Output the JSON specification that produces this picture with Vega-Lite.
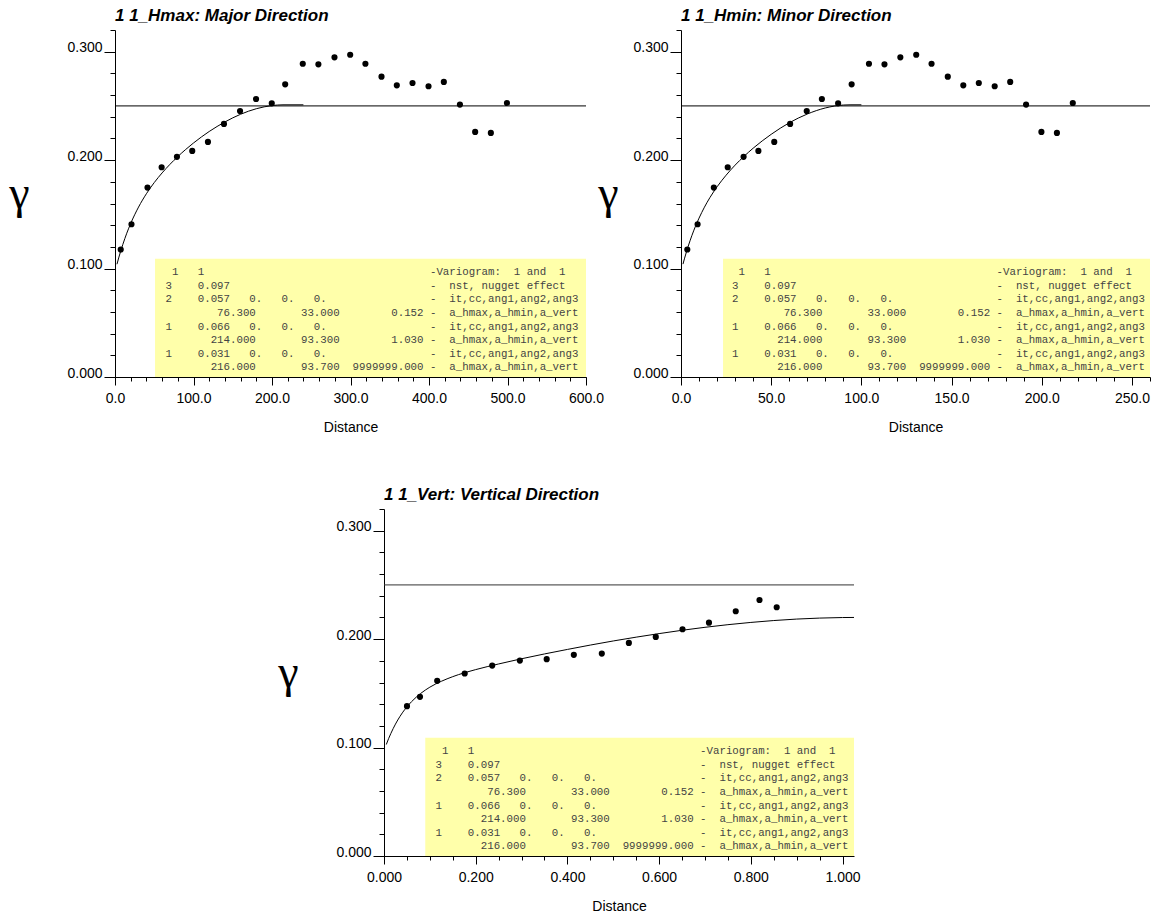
{
  "$schema": "https://vega.github.io/schema/vega-lite/v6.json",
  "autosize": {"type": "pad"},
  "padding": {"left": 8, "top": 6, "right": 0, "bottom": 0},
  "background": "white",
  "config": {
    "view": {"stroke": null},
    "title": {"anchor": "start", "frame": "group", "offset": 5, "baseline": "alphabetic", "font": "Liberation Sans", "fontSize": 17, "fontStyle": "italic", "fontWeight": "bold", "color": "black"},
    "axis": {"grid": false, "domainColor": "black", "domainWidth": 1, "tickColor": "black", "tickWidth": 1, "labelColor": "black", "labelFont": "Liberation Sans", "labelFontSize": 14, "labelFlush": false, "labelOverlap": false, "titleColor": "black", "titleFont": "Liberation Sans", "titleFontSize": 14, "titleFontWeight": "normal"}
  },
  "datasets": {
    "major_pts": [
      {"h": 7.3, "g": 0.1176}, {"h": 21, "g": 0.1409}, {"h": 41.4, "g": 0.1747}, {"h": 59.4, "g": 0.1934}, {"h": 78.9, "g": 0.203}, {"h": 98.4, "g": 0.2085}, {"h": 118.4, "g": 0.2168}, {"h": 138.8, "g": 0.2334}, {"h": 159.3, "g": 0.2453}, {"h": 179.7, "g": 0.2564}, {"h": 199.7, "g": 0.2524}, {"h": 216.8, "g": 0.2699}, {"h": 239.2, "g": 0.2889}, {"h": 259.1, "g": 0.2883}, {"h": 279.6, "g": 0.2948}, {"h": 299.6, "g": 0.2972}, {"h": 319, "g": 0.2889}, {"h": 339.5, "g": 0.277}, {"h": 359, "g": 0.269}, {"h": 379, "g": 0.2711}, {"h": 399.4, "g": 0.2681}, {"h": 418.9, "g": 0.2721}, {"h": 439.4, "g": 0.2512}, {"h": 458.8, "g": 0.226}, {"h": 478.8, "g": 0.2251}, {"h": 499.3, "g": 0.2527}
    ],
    "minor_pts": [
      {"h": 3.5, "g": 0.1176}, {"h": 9.2, "g": 0.1409}, {"h": 18.2, "g": 0.1747}, {"h": 25.9, "g": 0.1934}, {"h": 34.7, "g": 0.203}, {"h": 42.9, "g": 0.2085}, {"h": 51.7, "g": 0.2168}, {"h": 60.5, "g": 0.2334}, {"h": 69.7, "g": 0.2453}, {"h": 78.1, "g": 0.2564}, {"h": 87.1, "g": 0.2524}, {"h": 94.6, "g": 0.2699}, {"h": 104.2, "g": 0.2889}, {"h": 112.8, "g": 0.2883}, {"h": 121.6, "g": 0.2948}, {"h": 130.4, "g": 0.2972}, {"h": 138.9, "g": 0.2889}, {"h": 147.9, "g": 0.277}, {"h": 156.5, "g": 0.269}, {"h": 165.1, "g": 0.2711}, {"h": 173.9, "g": 0.2681}, {"h": 182.5, "g": 0.2721}, {"h": 191.3, "g": 0.2512}, {"h": 199.8, "g": 0.226}, {"h": 208.4, "g": 0.2251}, {"h": 217.2, "g": 0.2527}
    ],
    "vert_pts": [
      {"h": 0.0501, "g": 0.1382}, {"h": 0.0785, "g": 0.1468}, {"h": 0.116, "g": 0.1615}, {"h": 0.176, "g": 0.1683}, {"h": 0.236, "g": 0.1756}, {"h": 0.2963, "g": 0.1802}, {"h": 0.3548, "g": 0.1815}, {"h": 0.414, "g": 0.1855}, {"h": 0.475, "g": 0.1867}, {"h": 0.534, "g": 0.1965}, {"h": 0.5927, "g": 0.202}, {"h": 0.651, "g": 0.2091}, {"h": 0.7087, "g": 0.2152}, {"h": 0.7671, "g": 0.2257}, {"h": 0.8189, "g": 0.2361}, {"h": 0.8564, "g": 0.2294}
    ],
    "major_model": [
      {"h": 2.5, "g": 0.104}, {"h": 5, "g": 0.1106}, {"h": 10, "g": 0.1223}, {"h": 15, "g": 0.1326}, {"h": 20, "g": 0.1416}, {"h": 30, "g": 0.1567}, {"h": 40, "g": 0.169}, {"h": 50, "g": 0.1793}, {"h": 60, "g": 0.1882}, {"h": 70, "g": 0.1961}, {"h": 80, "g": 0.2033}, {"h": 90, "g": 0.2098}, {"h": 100, "g": 0.2158}, {"h": 120, "g": 0.2264}, {"h": 140, "g": 0.2352}, {"h": 160, "g": 0.2423}, {"h": 180, "g": 0.2474}, {"h": 200, "g": 0.2503}, {"h": 214, "g": 0.251}, {"h": 240, "g": 0.251}
    ],
    "minor_model": [
      {"h": 1.1, "g": 0.1041}, {"h": 2, "g": 0.1096}, {"h": 4, "g": 0.1206}, {"h": 6, "g": 0.1303}, {"h": 8, "g": 0.1389}, {"h": 10, "g": 0.1465}, {"h": 13, "g": 0.1566}, {"h": 16, "g": 0.1654}, {"h": 20, "g": 0.1754}, {"h": 25, "g": 0.1861}, {"h": 30, "g": 0.1954}, {"h": 35, "g": 0.2036}, {"h": 40, "g": 0.211}, {"h": 50, "g": 0.2238}, {"h": 60, "g": 0.2344}, {"h": 70, "g": 0.2425}, {"h": 80, "g": 0.2481}, {"h": 90, "g": 0.2508}, {"h": 93.7, "g": 0.251}, {"h": 100, "g": 0.251}
    ],
    "vert_model": [
      {"h": 0.005, "g": 0.1028}, {"h": 0.01, "g": 0.1082}, {"h": 0.02, "g": 0.1175}, {"h": 0.03, "g": 0.1254}, {"h": 0.04, "g": 0.132}, {"h": 0.06, "g": 0.1423}, {"h": 0.08, "g": 0.1499}, {"h": 0.1, "g": 0.1557}, {"h": 0.125, "g": 0.1611}, {"h": 0.15, "g": 0.1654}, {"h": 0.2, "g": 0.1719}, {"h": 0.25, "g": 0.1771}, {"h": 0.3, "g": 0.1819}, {"h": 0.4, "g": 0.1905}, {"h": 0.5, "g": 0.1983}, {"h": 0.6, "g": 0.2051}, {"h": 0.7, "g": 0.2109}, {"h": 0.8, "g": 0.2154}, {"h": 0.9, "g": 0.2185}, {"h": 1.0, "g": 0.2199}, {"h": 1.025, "g": 0.22}
    ]
  },
  "columns": 2,
  "align": "each",
  "bounds": "flush",
  "spacing": {"row": 132, "column": 95},
  "concat": [
    {
      "width": 471, "height": 347,
      "title": {"text": "1 1_Hmax: Major Direction"},
      "resolve": {"axis": {"x": "independent", "y": "independent"}},
      "layer": [
        {
          "data": {"values": [{}]},
          "mark": {"type": "rect", "color": "#FFFFAA"},
          "encoding": {
            "x": {"datum": 51, "type": "quantitative", "scale": {"domain": [0, 600], "nice": false, "zero": false},
              "axis": {"orient": "bottom", "values": [0,100,200,300,400,500,600], "format": ".1f", "tickSize": 8, "labelPadding": 6, "labelOverlap": false, "labelFlush": false,
                "title": "Distance", "titleY": 54, "titleBaseline": "alphabetic"}},
            "x2": {"datum": 600},
            "y": {"datum": 0, "type": "quantitative", "scale": {"domain": [0, 0.32], "nice": false, "zero": false},
              "axis": {"orient": "left", "values": [0,0.1,0.2,0.3], "format": ".3f", "tickSize": 11, "labelBaseline": "alphabetic", "labelPadding": 2, "labelOverlap": false, "labelFlush": false,
                "title": "γ", "titleAngle": 0, "titleX": -96, "titleY": 177, "titleAlign": "center", "titleBaseline": "alphabetic", "titleFont": "Liberation Serif", "titleFontSize": 46}},
            "y2": {"datum": 0.109}
          }
        },
        {
          "data": {"values": [{}]},
          "mark": {"type": "text", "align": "left", "baseline": "alphabetic", "font": "Liberation Mono", "fontSize": 10.75, "lineHeight": 13.6, "color": "#444444",
            "text": [
              "\u200b\u00a01\u00a0\u00a0\u00a01\u00a0\u00a0\u00a0\u00a0\u00a0\u00a0\u00a0\u00a0\u00a0\u00a0\u00a0\u00a0\u00a0\u00a0\u00a0\u00a0\u00a0\u00a0\u00a0\u00a0\u00a0\u00a0\u00a0\u00a0\u00a0\u00a0\u00a0\u00a0\u00a0\u00a0\u00a0\u00a0\u00a0\u00a0\u00a0-Variogram:\u00a0\u00a01\u00a0and\u00a0\u00a01",
              "3\u00a0\u00a0\u00a0\u00a00.097\u00a0\u00a0\u00a0\u00a0\u00a0\u00a0\u00a0\u00a0\u00a0\u00a0\u00a0\u00a0\u00a0\u00a0\u00a0\u00a0\u00a0\u00a0\u00a0\u00a0\u00a0\u00a0\u00a0\u00a0\u00a0\u00a0\u00a0\u00a0\u00a0\u00a0\u00a0-\u00a0\u00a0nst,\u00a0nugget\u00a0effect",
              "2\u00a0\u00a0\u00a0\u00a00.057\u00a0\u00a0\u00a00.\u00a0\u00a0\u00a00.\u00a0\u00a0\u00a00.\u00a0\u00a0\u00a0\u00a0\u00a0\u00a0\u00a0\u00a0\u00a0\u00a0\u00a0\u00a0\u00a0\u00a0\u00a0\u00a0-\u00a0\u00a0it,cc,ang1,ang2,ang3",
              "\u200b\u00a0\u00a0\u00a0\u00a0\u00a0\u00a0\u00a0\u00a076.300\u00a0\u00a0\u00a0\u00a0\u00a0\u00a0\u00a033.000\u00a0\u00a0\u00a0\u00a0\u00a0\u00a0\u00a0\u00a00.152\u00a0-\u00a0\u00a0a_hmax,a_hmin,a_vert",
              "1\u00a0\u00a0\u00a0\u00a00.066\u00a0\u00a0\u00a00.\u00a0\u00a0\u00a00.\u00a0\u00a0\u00a00.\u00a0\u00a0\u00a0\u00a0\u00a0\u00a0\u00a0\u00a0\u00a0\u00a0\u00a0\u00a0\u00a0\u00a0\u00a0\u00a0-\u00a0\u00a0it,cc,ang1,ang2,ang3",
              "\u200b\u00a0\u00a0\u00a0\u00a0\u00a0\u00a0\u00a0214.000\u00a0\u00a0\u00a0\u00a0\u00a0\u00a0\u00a093.300\u00a0\u00a0\u00a0\u00a0\u00a0\u00a0\u00a0\u00a01.030\u00a0-\u00a0\u00a0a_hmax,a_hmin,a_vert",
              "1\u00a0\u00a0\u00a0\u00a00.031\u00a0\u00a0\u00a00.\u00a0\u00a0\u00a00.\u00a0\u00a0\u00a00.\u00a0\u00a0\u00a0\u00a0\u00a0\u00a0\u00a0\u00a0\u00a0\u00a0\u00a0\u00a0\u00a0\u00a0\u00a0\u00a0-\u00a0\u00a0it,cc,ang1,ang2,ang3",
              "\u200b\u00a0\u00a0\u00a0\u00a0\u00a0\u00a0\u00a0216.000\u00a0\u00a0\u00a0\u00a0\u00a0\u00a0\u00a093.700\u00a0\u00a09999999.000\u00a0-\u00a0\u00a0a_hmax,a_hmin,a_vert"
            ]},
          "encoding": {
            "x": {"datum": 64.3, "type": "quantitative", "axis": {"orient": "bottom", "values": [0,20,40,60,80,100,120,140,160,180,200,220,240,260,280,300,320,340,360,380,400,420,440,460,480,500,520,540,560,580,600], "tickSize": 4, "labels": false, "domain": false, "title": null}},
            "y": {"datum": 0.0939, "type": "quantitative", "axis": {"orient": "left", "values": [0,0.02,0.04,0.06,0.08,0.1,0.12,0.14,0.16,0.18,0.2,0.22,0.24,0.26,0.28,0.3,0.32], "tickSize": 5, "labels": false, "domain": false, "title": null}}
          }
        },
        {
          "data": {"values": [{}]},
          "mark": {"type": "rule", "color": "black", "strokeWidth": 1},
          "encoding": {"x": {"datum": 0, "type": "quantitative", "axis": null}, "x2": {"datum": 600}, "y": {"datum": 0.25, "type": "quantitative", "axis": null}}
        },
        {
          "data": {"name": "major_model"},
          "mark": {"type": "line", "color": "black", "strokeWidth": 1, "interpolate": "monotone"},
          "encoding": {"x": {"field": "h", "type": "quantitative", "axis": null}, "y": {"field": "g", "type": "quantitative", "axis": null}}
        },
        {
          "data": {"name": "major_pts"},
          "mark": {"type": "circle", "color": "black", "size": 38, "opacity": 1},
          "encoding": {"x": {"field": "h", "type": "quantitative", "axis": null}, "y": {"field": "g", "type": "quantitative", "axis": null}}
        }
      ]
    },
    {
      "width": 469, "height": 347,
      "title": {"text": "1 1_Hmin: Minor Direction"},
      "resolve": {"axis": {"x": "independent", "y": "independent"}},
      "layer": [
        {
          "data": {"values": [{}]},
          "mark": {"type": "rect", "color": "#FFFFAA"},
          "encoding": {
            "x": {"datum": 23.3, "type": "quantitative", "scale": {"domain": [0, 260], "nice": false, "zero": false},
              "axis": {"orient": "bottom", "values": [0,50,100,150,200,250], "format": ".1f", "tickSize": 8, "labelPadding": 6, "labelOverlap": false, "labelFlush": false,
                "title": "Distance", "titleY": 54, "titleBaseline": "alphabetic"}},
            "x2": {"datum": 260},
            "y": {"datum": 0, "type": "quantitative", "scale": {"domain": [0, 0.32], "nice": false, "zero": false},
              "axis": {"orient": "left", "values": [0,0.1,0.2,0.3], "format": ".3f", "tickSize": 11, "labelBaseline": "alphabetic", "labelPadding": 2, "labelOverlap": false, "labelFlush": false,
                "title": "γ", "titleAngle": 0, "titleX": -73, "titleY": 177, "titleAlign": "center", "titleBaseline": "alphabetic", "titleFont": "Liberation Serif", "titleFontSize": 46}},
            "y2": {"datum": 0.109}
          }
        },
        {
          "data": {"values": [{}]},
          "mark": {"type": "text", "align": "left", "baseline": "alphabetic", "font": "Liberation Mono", "fontSize": 10.75, "lineHeight": 13.6, "color": "#444444",
            "text": [
              "\u200b\u00a01\u00a0\u00a0\u00a01\u00a0\u00a0\u00a0\u00a0\u00a0\u00a0\u00a0\u00a0\u00a0\u00a0\u00a0\u00a0\u00a0\u00a0\u00a0\u00a0\u00a0\u00a0\u00a0\u00a0\u00a0\u00a0\u00a0\u00a0\u00a0\u00a0\u00a0\u00a0\u00a0\u00a0\u00a0\u00a0\u00a0\u00a0\u00a0-Variogram:\u00a0\u00a01\u00a0and\u00a0\u00a01",
              "3\u00a0\u00a0\u00a0\u00a00.097\u00a0\u00a0\u00a0\u00a0\u00a0\u00a0\u00a0\u00a0\u00a0\u00a0\u00a0\u00a0\u00a0\u00a0\u00a0\u00a0\u00a0\u00a0\u00a0\u00a0\u00a0\u00a0\u00a0\u00a0\u00a0\u00a0\u00a0\u00a0\u00a0\u00a0\u00a0-\u00a0\u00a0nst,\u00a0nugget\u00a0effect",
              "2\u00a0\u00a0\u00a0\u00a00.057\u00a0\u00a0\u00a00.\u00a0\u00a0\u00a00.\u00a0\u00a0\u00a00.\u00a0\u00a0\u00a0\u00a0\u00a0\u00a0\u00a0\u00a0\u00a0\u00a0\u00a0\u00a0\u00a0\u00a0\u00a0\u00a0-\u00a0\u00a0it,cc,ang1,ang2,ang3",
              "\u200b\u00a0\u00a0\u00a0\u00a0\u00a0\u00a0\u00a0\u00a076.300\u00a0\u00a0\u00a0\u00a0\u00a0\u00a0\u00a033.000\u00a0\u00a0\u00a0\u00a0\u00a0\u00a0\u00a0\u00a00.152\u00a0-\u00a0\u00a0a_hmax,a_hmin,a_vert",
              "1\u00a0\u00a0\u00a0\u00a00.066\u00a0\u00a0\u00a00.\u00a0\u00a0\u00a00.\u00a0\u00a0\u00a00.\u00a0\u00a0\u00a0\u00a0\u00a0\u00a0\u00a0\u00a0\u00a0\u00a0\u00a0\u00a0\u00a0\u00a0\u00a0\u00a0-\u00a0\u00a0it,cc,ang1,ang2,ang3",
              "\u200b\u00a0\u00a0\u00a0\u00a0\u00a0\u00a0\u00a0214.000\u00a0\u00a0\u00a0\u00a0\u00a0\u00a0\u00a093.300\u00a0\u00a0\u00a0\u00a0\u00a0\u00a0\u00a0\u00a01.030\u00a0-\u00a0\u00a0a_hmax,a_hmin,a_vert",
              "1\u00a0\u00a0\u00a0\u00a00.031\u00a0\u00a0\u00a00.\u00a0\u00a0\u00a00.\u00a0\u00a0\u00a00.\u00a0\u00a0\u00a0\u00a0\u00a0\u00a0\u00a0\u00a0\u00a0\u00a0\u00a0\u00a0\u00a0\u00a0\u00a0\u00a0-\u00a0\u00a0it,cc,ang1,ang2,ang3",
              "\u200b\u00a0\u00a0\u00a0\u00a0\u00a0\u00a0\u00a0216.000\u00a0\u00a0\u00a0\u00a0\u00a0\u00a0\u00a093.700\u00a0\u00a09999999.000\u00a0-\u00a0\u00a0a_hmax,a_hmin,a_vert"
            ]},
          "encoding": {
            "x": {"datum": 28.3, "type": "quantitative", "axis": {"orient": "bottom", "values": [0,10,20,30,40,50,60,70,80,90,100,110,120,130,140,150,160,170,180,190,200,210,220,230,240,250,260], "tickSize": 4, "labels": false, "domain": false, "title": null}},
            "y": {"datum": 0.0939, "type": "quantitative", "axis": {"orient": "left", "values": [0,0.02,0.04,0.06,0.08,0.1,0.12,0.14,0.16,0.18,0.2,0.22,0.24,0.26,0.28,0.3,0.32], "tickSize": 5, "labels": false, "domain": false, "title": null}}
          }
        },
        {
          "data": {"values": [{}]},
          "mark": {"type": "rule", "color": "black", "strokeWidth": 1},
          "encoding": {"x": {"datum": 0, "type": "quantitative", "axis": null}, "x2": {"datum": 260}, "y": {"datum": 0.25, "type": "quantitative", "axis": null}}
        },
        {
          "data": {"name": "minor_model"},
          "mark": {"type": "line", "color": "black", "strokeWidth": 1, "interpolate": "monotone"},
          "encoding": {"x": {"field": "h", "type": "quantitative", "axis": null}, "y": {"field": "g", "type": "quantitative", "axis": null}}
        },
        {
          "data": {"name": "minor_pts"},
          "mark": {"type": "circle", "color": "black", "size": 38, "opacity": 1},
          "encoding": {"x": {"field": "h", "type": "quantitative", "axis": null}, "y": {"field": "g", "type": "quantitative", "axis": null}}
        }
      ]
    },
    {
      "width": 471, "height": 347,
      "title": {"text": "1 1_Vert: Vertical Direction", "dx": 269},
      "resolve": {"axis": {"x": "independent", "y": "independent"}},
      "layer": [
        {
          "data": {"values": [{}]},
          "mark": {"type": "rect", "color": "#FFFFAA"},
          "encoding": {
            "x": {"datum": 0.09, "type": "quantitative", "scale": {"domain": [0, 1.025], "range": [269, 739], "nice": false, "zero": false},
              "axis": {"orient": "bottom", "values": [0,0.2,0.4,0.6,0.8,1.0], "format": ".3f", "tickSize": 8, "labelPadding": 6, "labelOverlap": false, "labelFlush": false,
                "title": "Distance", "titleY": 54, "titleBaseline": "alphabetic"}},
            "x2": {"datum": 1.025},
            "y": {"datum": 0, "type": "quantitative", "scale": {"domain": [0, 0.32], "nice": false, "zero": false},
              "axis": {"orient": "left", "offset": -269, "values": [0,0.1,0.2,0.3], "format": ".3f", "tickSize": 11, "labelBaseline": "alphabetic", "labelPadding": 2, "labelOverlap": false, "labelFlush": false,
                "title": "γ", "titleAngle": 0, "titleX": -96, "titleY": 177, "titleAlign": "center", "titleBaseline": "alphabetic", "titleFont": "Liberation Serif", "titleFontSize": 46}},
            "y2": {"datum": 0.109}
          }
        },
        {
          "data": {"values": [{}]},
          "mark": {"type": "text", "align": "left", "baseline": "alphabetic", "font": "Liberation Mono", "fontSize": 10.75, "lineHeight": 13.6, "color": "#444444",
            "text": [
              "\u200b\u00a01\u00a0\u00a0\u00a01\u00a0\u00a0\u00a0\u00a0\u00a0\u00a0\u00a0\u00a0\u00a0\u00a0\u00a0\u00a0\u00a0\u00a0\u00a0\u00a0\u00a0\u00a0\u00a0\u00a0\u00a0\u00a0\u00a0\u00a0\u00a0\u00a0\u00a0\u00a0\u00a0\u00a0\u00a0\u00a0\u00a0\u00a0\u00a0-Variogram:\u00a0\u00a01\u00a0and\u00a0\u00a01",
              "3\u00a0\u00a0\u00a0\u00a00.097\u00a0\u00a0\u00a0\u00a0\u00a0\u00a0\u00a0\u00a0\u00a0\u00a0\u00a0\u00a0\u00a0\u00a0\u00a0\u00a0\u00a0\u00a0\u00a0\u00a0\u00a0\u00a0\u00a0\u00a0\u00a0\u00a0\u00a0\u00a0\u00a0\u00a0\u00a0-\u00a0\u00a0nst,\u00a0nugget\u00a0effect",
              "2\u00a0\u00a0\u00a0\u00a00.057\u00a0\u00a0\u00a00.\u00a0\u00a0\u00a00.\u00a0\u00a0\u00a00.\u00a0\u00a0\u00a0\u00a0\u00a0\u00a0\u00a0\u00a0\u00a0\u00a0\u00a0\u00a0\u00a0\u00a0\u00a0\u00a0-\u00a0\u00a0it,cc,ang1,ang2,ang3",
              "\u200b\u00a0\u00a0\u00a0\u00a0\u00a0\u00a0\u00a0\u00a076.300\u00a0\u00a0\u00a0\u00a0\u00a0\u00a0\u00a033.000\u00a0\u00a0\u00a0\u00a0\u00a0\u00a0\u00a0\u00a00.152\u00a0-\u00a0\u00a0a_hmax,a_hmin,a_vert",
              "1\u00a0\u00a0\u00a0\u00a00.066\u00a0\u00a0\u00a00.\u00a0\u00a0\u00a00.\u00a0\u00a0\u00a00.\u00a0\u00a0\u00a0\u00a0\u00a0\u00a0\u00a0\u00a0\u00a0\u00a0\u00a0\u00a0\u00a0\u00a0\u00a0\u00a0-\u00a0\u00a0it,cc,ang1,ang2,ang3",
              "\u200b\u00a0\u00a0\u00a0\u00a0\u00a0\u00a0\u00a0214.000\u00a0\u00a0\u00a0\u00a0\u00a0\u00a0\u00a093.300\u00a0\u00a0\u00a0\u00a0\u00a0\u00a0\u00a0\u00a01.030\u00a0-\u00a0\u00a0a_hmax,a_hmin,a_vert",
              "1\u00a0\u00a0\u00a0\u00a00.031\u00a0\u00a0\u00a00.\u00a0\u00a0\u00a00.\u00a0\u00a0\u00a00.\u00a0\u00a0\u00a0\u00a0\u00a0\u00a0\u00a0\u00a0\u00a0\u00a0\u00a0\u00a0\u00a0\u00a0\u00a0\u00a0-\u00a0\u00a0it,cc,ang1,ang2,ang3",
              "\u200b\u00a0\u00a0\u00a0\u00a0\u00a0\u00a0\u00a0216.000\u00a0\u00a0\u00a0\u00a0\u00a0\u00a0\u00a093.700\u00a0\u00a09999999.000\u00a0-\u00a0\u00a0a_hmax,a_hmin,a_vert"
            ]},
          "encoding": {
            "x": {"datum": 0.1125, "type": "quantitative", "axis": {"orient": "bottom", "values": [0,0.05,0.1,0.15,0.2,0.25,0.3,0.35,0.4,0.45,0.5,0.55,0.6,0.65,0.7,0.75,0.8,0.85,0.9,0.95,1.0], "tickSize": 4, "labels": false, "domain": false, "title": null}},
            "y": {"datum": 0.0939, "type": "quantitative", "axis": {"orient": "left", "offset": -269, "values": [0,0.02,0.04,0.06,0.08,0.1,0.12,0.14,0.16,0.18,0.2,0.22,0.24,0.26,0.28,0.3,0.32], "tickSize": 5, "labels": false, "domain": false, "title": null}}
          }
        },
        {
          "data": {"values": [{}]},
          "mark": {"type": "rule", "color": "#333333", "strokeWidth": 1},
          "encoding": {"x": {"datum": 0, "type": "quantitative", "axis": null}, "x2": {"datum": 1.025}, "y": {"datum": 0.25, "type": "quantitative", "axis": null}}
        },
        {
          "data": {"name": "vert_model"},
          "mark": {"type": "line", "color": "black", "strokeWidth": 1, "interpolate": "monotone"},
          "encoding": {"x": {"field": "h", "type": "quantitative", "axis": null}, "y": {"field": "g", "type": "quantitative", "axis": null}}
        },
        {
          "data": {"name": "vert_pts"},
          "mark": {"type": "circle", "color": "black", "size": 38, "opacity": 1},
          "encoding": {"x": {"field": "h", "type": "quantitative", "axis": null}, "y": {"field": "g", "type": "quantitative", "axis": null}}
        }
      ]
    }
  ]
}
